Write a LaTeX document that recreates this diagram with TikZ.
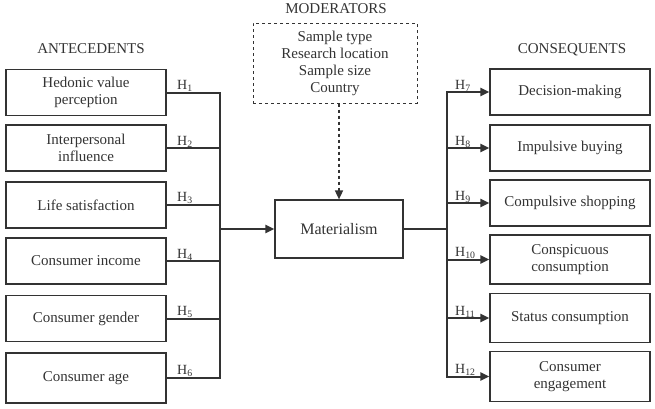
\documentclass[tikz,border=0pt]{standalone}
\usepackage{fontspec}
\setmainfont{Liberation Serif}
\usetikzlibrary{arrows.meta}
\definecolor{ink}{HTML}{333333}
\tikzset{
  box/.style={draw=ink, line width=1.2pt, text=ink, minimum width=160pt, minimum height=46pt, align=center, inner sep=2pt, font=\fontsize{15}{17}\selectfont},
  head/.style={text=ink, font=\fontsize{15}{17}\selectfont},
  hlab/.style={text=ink, anchor=base west, inner sep=0pt, font=\fontsize{14}{16}\selectfont},
  conn/.style={draw=ink, line width=2pt},
  arr/.style={conn, -{Triangle[length=9pt,width=8pt]}}
}
\begin{document}
\begin{tikzpicture}[x=1pt,y=-1pt]
\useasboundingbox (0,0) rectangle (655,408);
% headings
\node[head] (hA) at (91,49) {ANTECEDENTS};
\node[head] (hC) at (572,50) {CONSEQUENTS};
\node[head] (hM) at (336,9) {MODERATORS};
% left boxes
\node[box] (a1) at (86,92.5) {Hedonic value\\perception};
\node[box] (a2) at (86,148) {Interpersonal\\influence};
\node[box] (a3) at (86,205) {Life satisfaction};
\node[box] (a4) at (86,261) {Consumer income};
\node[box] (a5) at (86,318.5) {Consumer gender};
\node[box,minimum height=50pt] (a6) at (86,378) {Consumer age};
% right boxes
\node[box] (c1) at (570,92) {Decision-making};
\node[box] (c2) at (570,148) {Impulsive buying};
\node[box] (c3) at (570,203) {Compulsive shopping};
\node[box,minimum height=49pt] (c4) at (570,259.5) {Conspicuous\\consumption};
\node[box,minimum height=49pt] (c5) at (570,318) {Status consumption};
\node[box,minimum height=50pt] (c6) at (570,376.5) {Consumer\\engagement};
% centre
\node[box,minimum width=128pt,minimum height=58pt,font=\fontsize{16}{18}\selectfont] (m) at (339,229) {Materialism};
\node[box,dashed,line width=1pt,minimum width=164pt,minimum height=80pt] (mod) at (335,63) {Sample type\\Research location\\Sample size\\Country};
% bus points
\coordinate (lb) at (220,229);
\coordinate (rb) at (447,229);
% left connectors
\foreach \i in {1,...,6}{\draw[conn] (a\i.east) -| (lb);}
\draw[arr] (lb) -- (m.west);
% right connectors
\draw[conn] (m.east) -- (rb);
\foreach \i in {1,...,6}{\draw[arr] (rb) |- (c\i.west);}
% moderator arrow
\draw[arr,dashed,line width=1.6pt] (mod.south -| m.north) -- (m.north);
% H labels
\node[hlab] (h1) at (177,89) {H\textsubscript{1}};
\node[hlab] (h2) at (177,145) {H\textsubscript{2}};
\node[hlab] (h3) at (177,201) {H\textsubscript{3}};
\node[hlab] (h4) at (177,258) {H\textsubscript{4}};
\node[hlab] (h5) at (177,315) {H\textsubscript{5}};
\node[hlab] (h6) at (177,374) {H\textsubscript{6}};
\node[hlab] (h7) at (455,89) {H\textsubscript{7}};
\node[hlab] (h8) at (455,145) {H\textsubscript{8}};
\node[hlab] (h9) at (455,200) {H\textsubscript{9}};
\node[hlab] (h10) at (455,256) {H\textsubscript{10}};
\node[hlab] (h11) at (455,315) {H\textsubscript{11}};
\node[hlab] (h12) at (455,373) {H\textsubscript{12}};
\end{tikzpicture}
\end{document}
